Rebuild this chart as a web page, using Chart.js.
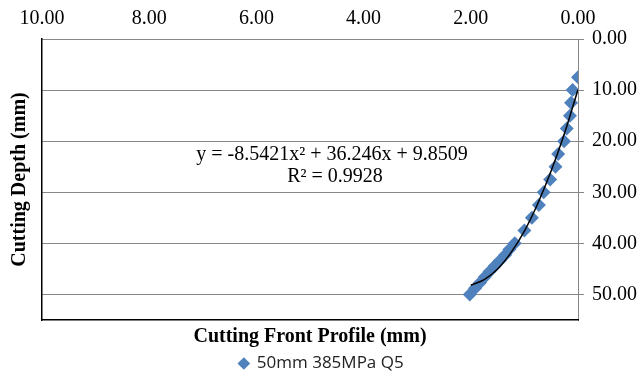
<!DOCTYPE html>
<html>
<head>
<meta charset="utf-8">
<script src="https://cdn.jsdelivr.net/npm/chart.js@4.4.1/dist/chart.umd.min.js"></script>
<style>
  html, body { margin: 0; padding: 0; background: #fff; }
  #wrap { width: 643px; height: 375px; }
</style>
</head>
<body>
<div id="wrap"><canvas id="chart" width="643" height="375"></canvas></div>
<script>
// measured points (front profile in mm, cutting depth in mm)
const profileX = [0.00, 0.10, 0.13, 0.15, 0.21, 0.26, 0.37, 0.42, 0.52, 0.64, 0.73, 0.86, 1.00,
                  1.18, 1.28, 1.36, 1.46, 1.55, 1.65, 1.74, 1.83, 1.92, 2.02];
const depthY = [7.5, 10, 12.5, 15, 17.5, 20, 22.5, 25, 27.5, 30, 32.5, 35, 37.5,
                40, 41.2, 42.3, 43.4, 44.4, 45.5, 46.6, 47.7, 48.8, 50];

// trendline
const trendX = [0, 0.25, 0.5, 0.75, 1.0, 1.25, 1.5, 1.75, 2.0];
const trendY = [9.9, 18.4, 25.8, 32.2, 37.6, 41.8, 45.0, 47.1, 48.2];

const xTicks = [0, 2, 4, 6, 8, 10];
const yTicks = [0, 10, 20, 30, 40, 50];

const seriesName = "50mm 385MPa Q5";
const eqLine1 = "y = -8.5421x\u00B2 + 36.246x + 9.8509";
const eqLine2 = "R\u00B2 = 0.9928";

const serif = "'Liberation Serif', 'Times New Roman', serif";
const axisGray = "#878787";

const eqLabel = {
  id: "eqLabel",
  afterDatasetsDraw(chart) {
    const { ctx, chartArea } = chart;
    ctx.save();
    ctx.fillStyle = "#000";
    ctx.font = "20px " + serif;
    ctx.textAlign = "center";
    ctx.textBaseline = "middle";
    ctx.fillText(eqLine1, chartArea.left + 290, chartArea.top + 116);
    ctx.fillText(eqLine2, chartArea.left + 293, chartArea.top + 138);
    ctx.restore();
  }
};

new Chart(document.getElementById("chart"), {
  type: "scatter",
  data: {
    datasets: [
      {
        label: seriesName,
        data: profileX.map((x, i) => ({ x: x, y: depthY[i] })),
        backgroundColor: "#4F81BD",
        borderColor: "#4F81BD",
        pointStyle: "rectRot",
        pointRadius: 7,
        pointHoverRadius: 7,
        borderWidth: 0,
        order: 2
      },
      {
        label: "trend",
        data: trendX.map((x, i) => ({ x: x, y: trendY[i] })),
        showLine: true,
        borderColor: "#000",
        borderWidth: 1.5,
        pointRadius: 0,
        cubicInterpolationMode: "monotone",
        fill: false,
        order: 1
      }
    ]
  },
  options: {
    responsive: false,
    animation: false,
    layout: { padding: { top: 0, left: 0, right: 0, bottom: -7 } },
    plugins: {
      tooltip: { enabled: false },
      legend: {
        position: "bottom",
        labels: {
          usePointStyle: true,
          boxWidth: 9,
          boxHeight: 9,
          padding: 0,
          color: "#222",
          font: { family: "'Open Sans', 'Noto Sans', sans-serif", size: 17 },
          filter: (item) => item.datasetIndex === 0
        }
      }
    },
    scales: {
      x: {
        type: "linear",
        position: "top",
        reverse: true,
        min: 0,
        max: 10,
        afterBuildTicks: (s) => { s.ticks = xTicks.map(v => ({ value: v })); },
        afterFit: (s) => { s.height = 39; },
        grid: { display: false },
        border: { color: axisGray, width: 1 },
        ticks: {
          color: "#000",
          padding: 0,
          font: { family: serif, size: 20 },
          callback: (v) => Number(v).toFixed(2)
        }
      },
      y: {
        type: "linear",
        position: "right",
        reverse: true,
        min: 0,
        max: 55,
        afterBuildTicks: (s) => { s.ticks = yTicks.map(v => ({ value: v })); },
        afterFit: (s) => { s.width = 65; },
        grid: { color: axisGray, tickLength: 6 },
        border: { color: axisGray, width: 1 },
        ticks: {
          color: "#000",
          padding: 8,
          font: { family: serif, size: 20 },
          callback: (v) => Number(v).toFixed(2)
        }
      },
      xb: {
        type: "linear",
        position: "bottom",
        min: 0,
        max: 10,
        afterFit: (s) => { s.height = 35; },
        grid: { display: false },
        ticks: { display: false },
        border: { color: "#000", width: 1.5 },
        title: {
          display: true,
          text: "Cutting Front Profile (mm)",
          color: "#000",
          padding: { top: 0, bottom: 6 },
          font: { family: serif, size: 20, weight: "bold" }
        }
      },
      yl: {
        type: "linear",
        position: "left",
        min: 0,
        max: 55,
        afterFit: (s) => { s.width = 42; },
        grid: { display: false },
        ticks: { display: false },
        border: { color: "#000", width: 1.5 },
        title: {
          display: true,
          text: "Cutting Depth (mm)",
          color: "#000",
          padding: { top: 8, bottom: 0 },
          font: { family: serif, size: 20, weight: "bold" }
        }
      }
    }
  },
  plugins: [eqLabel]
});
</script>
</body>
</html>
